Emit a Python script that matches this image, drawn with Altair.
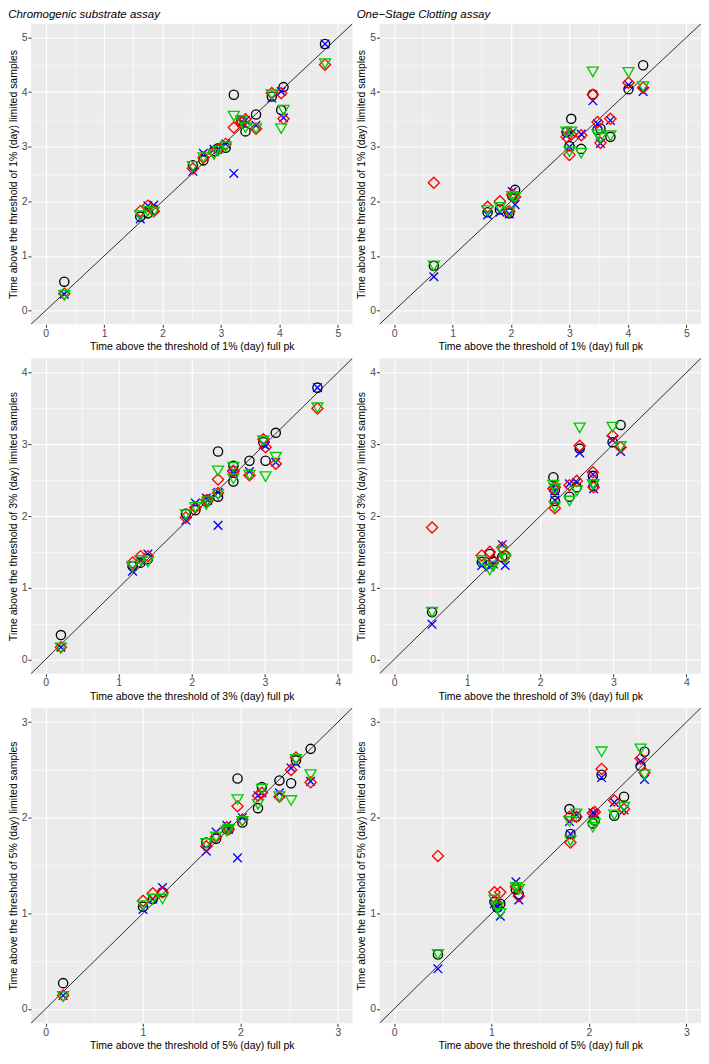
import altair as alt
import pandas as pd

METHODS = ["circle", "cross", "diamond", "triangle"]
COLORS = ["#000000", "#0000FF", "#FF0000", "#00CD00"]
SHAPES = ["circle", "M-1,-1L1,1M-1,1L1,-1", "diamond", "triangle-down"]
SIZES = [85, 75, 125, 120]

# ---------------- Chromogenic substrate assay ----------------
chr1_x = [0.32, 1.62, 1.75, 1.85, 2.52, 2.70, 2.88, 2.95, 3.08, 3.22, 3.35, 3.42, 3.60, 3.87, 4.03, 4.07, 4.78]
chr1_circle = [0.53, 1.72, 1.78, 1.85, 2.66, 2.75, 2.92, 2.97, 2.98, 3.95, 3.48, 3.28, 3.59, 3.92, 3.67, 4.09, 4.88]
chr1_cross = [0.30, 1.68, 1.92, 1.93, 2.55, 2.88, 2.95, 2.95, 3.05, 2.51, 3.45, 3.48, 3.39, 3.89, 4.01, 3.53, 4.88]
chr1_diamond = [0.31, 1.82, 1.92, 1.82, 2.60, 2.80, 2.90, 2.95, 3.05, 3.35, 3.45, 3.50, 3.33, 3.98, 3.98, 3.51, 4.50]
chr1_triangle = [0.28, 1.74, 1.82, 1.80, 2.64, 2.80, 2.86, 2.92, 3.00, 3.56, 3.48, 3.35, 3.33, 3.95, 3.33, 3.67, 4.52]

chr3_x = [0.21, 1.19, 1.30, 1.40, 1.92, 2.05, 2.20, 2.22, 2.36, 2.36, 2.57, 2.57, 2.79, 2.98, 3.01, 3.15, 3.72]
chr3_circle = [0.34, 1.30, 1.35, 1.40, 2.03, 2.08, 2.20, 2.22, 2.27, 2.90, 2.70, 2.48, 2.77, 3.03, 2.77, 3.16, 3.79]
chr3_cross = [0.17, 1.23, 1.38, 1.47, 1.94, 2.18, 2.25, 2.22, 2.33, 1.87, 2.63, 2.60, 2.62, 3.00, 2.98, 2.75, 3.79]
chr3_diamond = [0.17, 1.35, 1.44, 1.44, 1.98, 2.12, 2.22, 2.22, 2.32, 2.51, 2.63, 2.62, 2.57, 3.07, 2.96, 2.73, 3.50]
chr3_triangle = [0.16, 1.30, 1.38, 1.36, 2.02, 2.12, 2.16, 2.20, 2.30, 2.63, 2.68, 2.52, 2.57, 3.05, 2.55, 2.82, 3.51]

chr5_x = [0.18, 1.00, 1.10, 1.20, 1.65, 1.75, 1.86, 1.88, 2.02, 1.97, 2.22, 2.18, 2.40, 2.57, 2.52, 2.72]
chr5_circle = [0.27, 1.07, 1.15, 1.22, 1.74, 1.78, 1.88, 1.88, 1.95, 2.41, 2.32, 2.10, 2.39, 2.60, 2.36, 2.72]
chr5_cross = [0.14, 1.04, 1.15, 1.27, 1.65, 1.85, 1.92, 1.88, 2.00, 1.58, 2.26, 2.23, 2.26, 2.57, 2.52, 2.38]
chr5_diamond = [0.14, 1.13, 1.21, 1.22, 1.70, 1.80, 1.90, 1.88, 1.98, 2.12, 2.26, 2.23, 2.22, 2.63, 2.50, 2.37]
chr5_triangle = [0.13, 1.08, 1.15, 1.15, 1.73, 1.80, 1.86, 1.88, 1.96, 2.19, 2.30, 2.14, 2.22, 2.61, 2.18, 2.45]

# ---------------- One-Stage Clotting assay ----------------
osc1_x = [0.68, 1.60, 1.81, 1.97, 2.02, 2.07, 2.95, 3.00, 3.03, 3.20, 3.40, 3.48, 3.53, 3.70, 4.01, 4.26]
osc1_circle = [0.82, 1.80, 1.85, 1.78, 2.10, 2.21, 3.27, 3.01, 3.51, 2.96, 3.96, 3.31, 3.33, 3.18, 4.05, 4.49]
osc1_cross = [0.62, 1.75, 1.80, 1.77, 2.18, 1.94, 3.21, 3.00, 3.25, 3.23, 3.84, 3.42, 3.06, 3.48, 4.13, 4.01]
osc1_diamond = [2.34, 1.90, 2.00, 1.82, 2.12, 2.08, 3.18, 2.85, 3.22, 3.21, 3.95, 3.45, 3.07, 3.51, 4.17, 4.08]
osc1_triangle = [0.82, 1.83, 1.89, 1.80, 2.09, 2.07, 3.27, 2.91, 3.27, 2.88, 4.37, 3.22, 3.16, 3.20, 4.36, 4.10]

osc3_x = [0.52, 1.20, 1.31, 1.36, 1.48, 1.52, 2.18, 2.20, 2.20, 2.40, 2.50, 2.54, 2.72, 2.73, 2.99, 3.10]
osc3_circle = [0.66, 1.36, 1.47, 1.36, 1.43, 1.45, 2.54, 2.21, 2.36, 2.27, 2.40, 2.94, 2.56, 2.42, 3.03, 3.27]
osc3_cross = [0.49, 1.31, 1.29, 1.33, 1.60, 1.31, 2.40, 2.22, 2.35, 2.45, 2.47, 2.88, 2.58, 2.38, 3.06, 2.90]
osc3_diamond = [1.84, 1.45, 1.50, 1.38, 1.56, 1.45, 2.38, 2.11, 2.40, 2.43, 2.49, 2.98, 2.61, 2.40, 3.12, 2.96]
osc3_triangle = [0.66, 1.38, 1.25, 1.30, 1.50, 1.40, 2.43, 2.13, 2.38, 2.21, 2.35, 3.23, 2.44, 2.44, 3.24, 2.97]

osc5_x = [0.45, 1.03, 1.09, 1.06, 1.25, 1.28, 1.80, 1.81, 1.87, 2.04, 2.06, 2.13, 2.26, 2.36, 2.53, 2.57]
osc5_circle = [0.57, 1.12, 1.10, 1.06, 1.25, 1.20, 2.09, 1.83, 2.01, 1.94, 1.97, 2.45, 2.02, 2.22, 2.54, 2.69]
osc5_cross = [0.42, 1.10, 0.97, 1.07, 1.33, 1.14, 1.96, 1.83, 2.03, 2.05, 2.04, 2.42, 2.16, 2.08, 2.59, 2.40]
osc5_diamond = [1.60, 1.22, 1.22, 1.10, 1.28, 1.18, 2.01, 1.74, 2.01, 2.05, 2.06, 2.51, 2.18, 2.09, 2.62, 2.47]
osc5_triangle = [0.57, 1.14, 1.00, 1.06, 1.27, 1.25, 1.96, 1.76, 2.04, 1.90, 1.94, 2.69, 2.03, 2.11, 2.72, 2.45]

W = 322
H_TOP = 301
H = 316


def panel(xs, ys_lists, limit, thr, title, h):
    lo, hi = -0.05 * limit, 1.05 * limit
    ticks = [i * 0.5 for i in range(int(limit * 2) + 1)]
    common = dict(
        values=ticks,
        labelExpr="datum.value % 1 === 0 ? format(datum.value, 'd') : ''",
        gridWidth={"condition": {"test": "datum.value % 1 !== 0", "value": 0.55}, "value": 1.1},
        tickOpacity={"condition": {"test": "datum.value % 1 !== 0", "value": 0}, "value": 1},
    )
    xaxis = alt.Axis(title=f"Time above the threshold of {thr}% (day) full pk", **common)
    yaxis = alt.Axis(title=f"Time above the threshold of {thr}% (day) limited samples", **common)
    xsc = alt.Scale(domain=[lo, hi], nice=False, zero=False)
    ysc = alt.Scale(domain=[lo, hi], nice=False, zero=False)

    line_df = pd.DataFrame({"x": [lo, hi], "y": [lo, hi]})
    layers = [
        alt.Chart(line_df).mark_line(color="#1a1a1a", strokeWidth=0.9, clip=True).encode(
            x=alt.X("x:Q", scale=xsc, axis=xaxis),
            y=alt.Y("y:Q", scale=ysc, axis=yaxis),
        )
    ]
    for m, ys, col, shp, sz in zip(METHODS, ys_lists, COLORS, SHAPES, SIZES):
        df = pd.DataFrame({"x": xs, "y": ys, "method": m})
        layers.append(
            alt.Chart(df).mark_point(
                filled=False, strokeWidth=1.35, opacity=1, color=col, shape=shp, size=sz
            ).encode(
                x=alt.X("x:Q", scale=xsc, axis=xaxis),
                y=alt.Y("y:Q", scale=ysc, axis=yaxis),
            )
        )
    ch = alt.layer(*layers).properties(width=W, height=h)
    if title:
        ch = ch.properties(
            title=alt.Title(
                title, anchor="start", fontStyle="italic", fontWeight="normal",
                fontSize=11.5, font="Liberation Sans", color="#000000", offset=3,
            )
        )
    return ch


row1 = alt.hconcat(
    panel(chr1_x, [chr1_circle, chr1_cross, chr1_diamond, chr1_triangle], 5, 1,
          "Chromogenic substrate assay", H_TOP),
    panel(osc1_x, [osc1_circle, osc1_cross, osc1_diamond, osc1_triangle], 5, 1,
          "One\u2212Stage Clotting assay", H_TOP),
    spacing=4,
)
row2 = alt.hconcat(
    panel(chr3_x, [chr3_circle, chr3_cross, chr3_diamond, chr3_triangle], 4, 3, None, H),
    panel(osc3_x, [osc3_circle, osc3_cross, osc3_diamond, osc3_triangle], 4, 3, None, H),
    spacing=4,
)
row3 = alt.hconcat(
    panel(chr5_x, [chr5_circle, chr5_cross, chr5_diamond, chr5_triangle], 3, 5, None, H),
    panel(osc5_x, [osc5_circle, osc5_cross, osc5_diamond, osc5_triangle], 3, 5, None, H),
    spacing=4,
)

chart = alt.vconcat(row1, row2, row3, spacing=6).properties(padding=0).configure_view(
    fill="#EBEBEB", stroke=None
).configure_axis(
    domain=False,
    gridColor="#FFFFFF",
    tickColor="#333333",
    tickSize=3,
    tickWidth=1,
    labelFont="Liberation Sans",
    titleFont="Liberation Sans",
    labelFontSize=10.5,
    labelColor="#4D4D4D",
    labelPadding=1,
    titleFontSize=10.5,
    titleFontWeight="normal",
    titleColor="#000000",
    titlePadding=3,
)

chart.save("out.html", embed_options={"renderer": "svg", "actions": False})
